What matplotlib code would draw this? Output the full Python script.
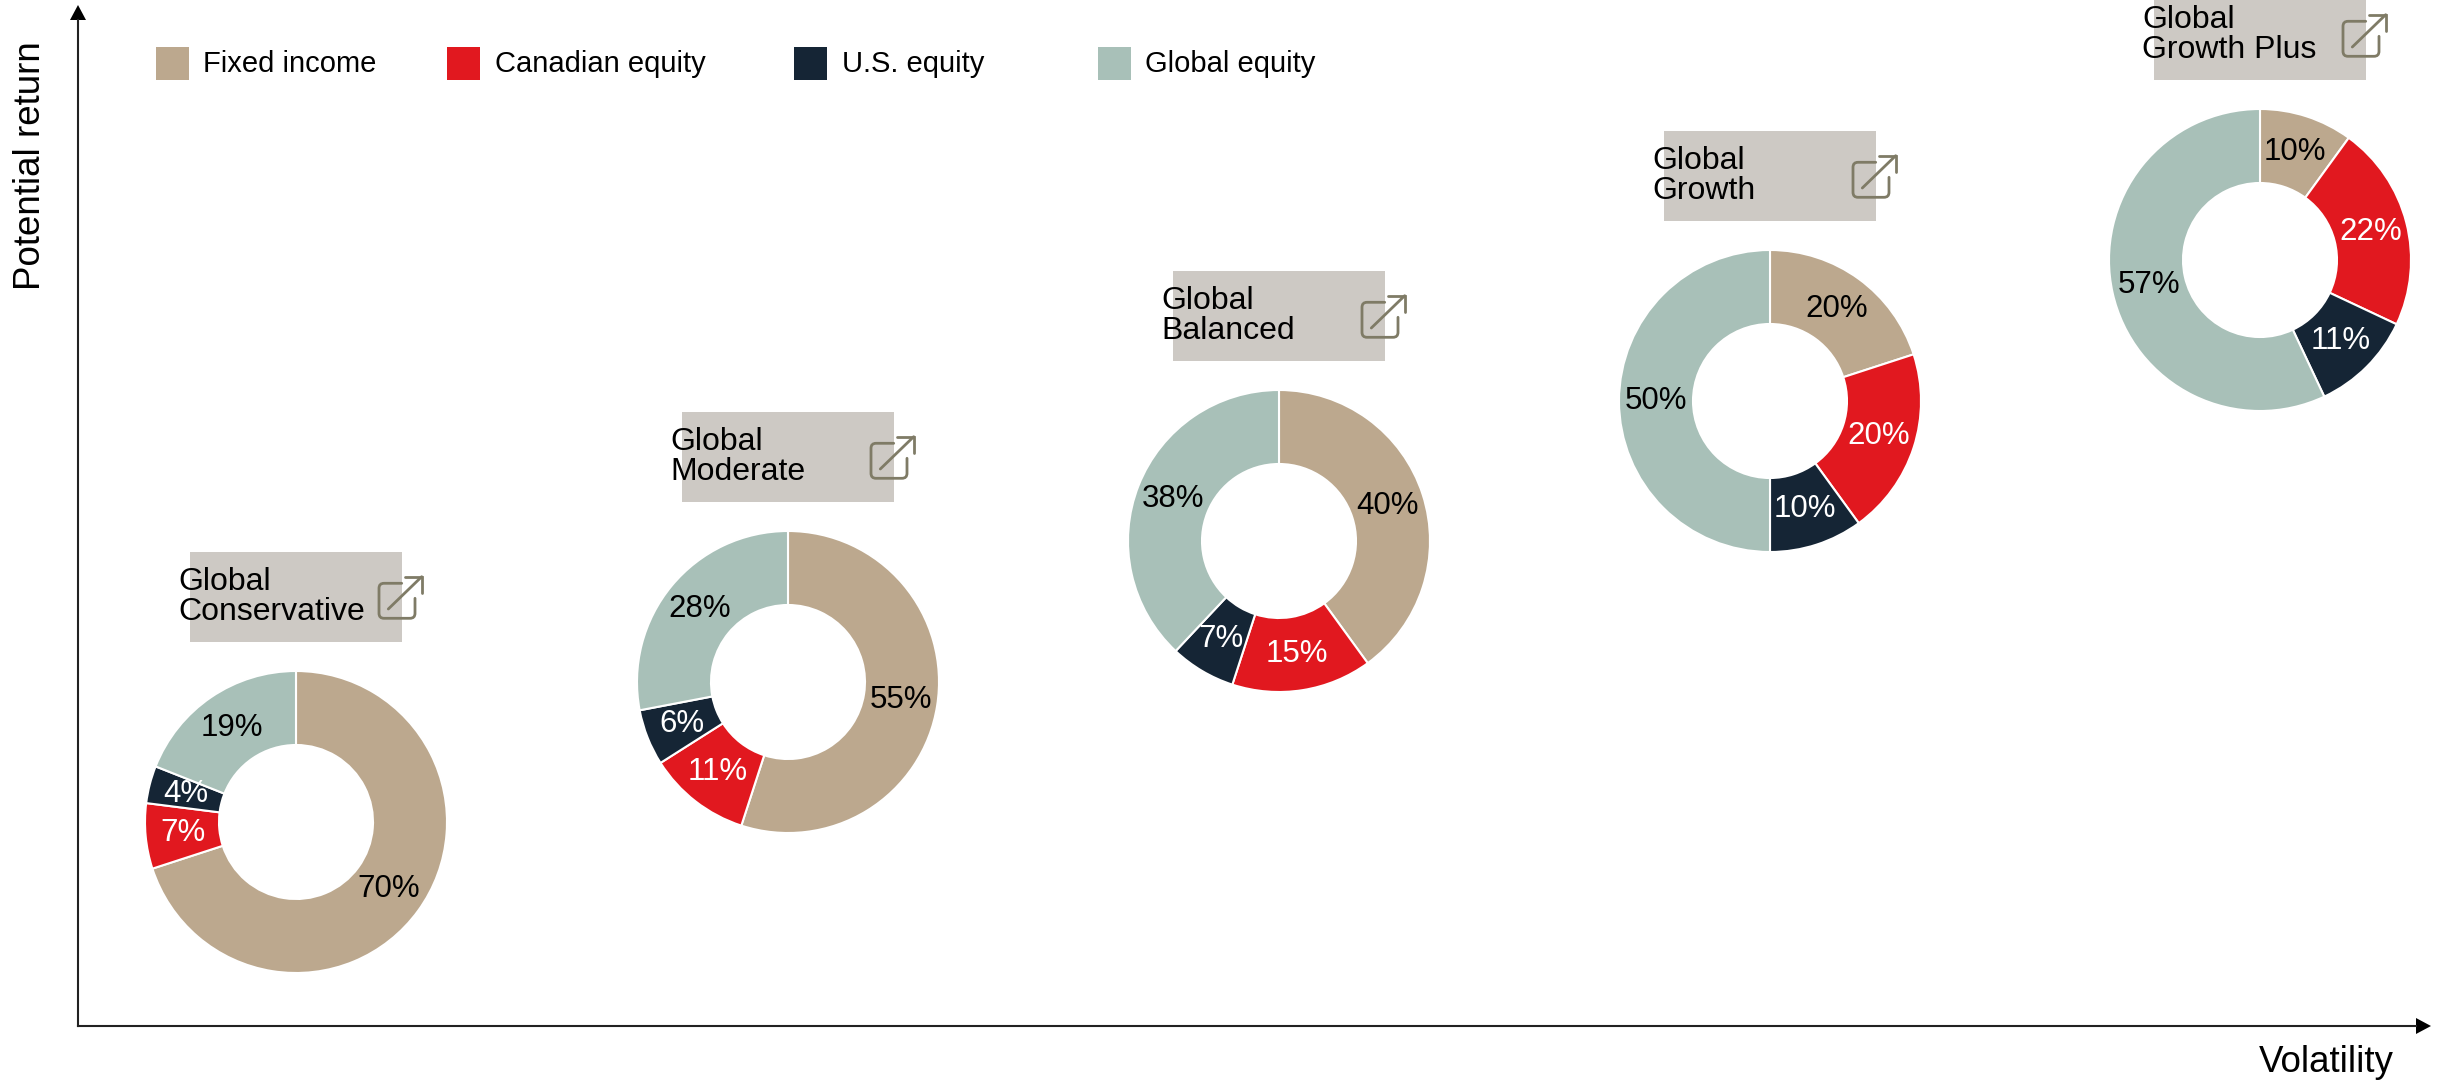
import matplotlib
matplotlib.use("Agg")
import matplotlib.pyplot as plt
from matplotlib.patches import FancyBboxPatch, Rectangle, Polygon
from matplotlib.path import Path
from matplotlib.patches import PathPatch

plt.rcParams['font.family'] = ['Liberation Sans', 'DejaVu Sans']

# Datos de cada cartera
portfolios = ["Global\nConservative", "Global\nModerate", "Global\nBalanced", "Global\nGrowth", "Global\nGrowth Plus"]
fixed_income = [70, 55, 40, 20, 10]
canadian_equity = [7, 11, 15, 20, 22]
us_equity = [4, 6, 7, 10, 11]
global_equity = [19, 28, 38, 50, 57]

series_names = ["Fixed income", "Canadian equity", "U.S. equity", "Global equity"]
series_colors = ["#bca88e", "#e1181f", "#152535", "#a8c0b8"]
label_colors = ["black", "white", "white", "black"]

# Posiciones en pixeles de la imagen
center_x = [296, 788, 1279, 1770, 2260]
center_y = [822, 682, 541, 401, 260]
radius = 151
ring = 74

fig = plt.figure(figsize=(24.46, 10.82), dpi=100)
ax = fig.add_axes([0, 0, 1, 1])

icon_color = "#7f7b66"
pill_color = "#cdc9c4"


def draw_icon(cx, cy):
    box = Path(
        [(105.7, -13.7), (88, -13.7), (83, -13.7), (83, -8.7), (83, 16.3), (83, 21.3), (88, 21.3),
         (114, 21.3), (119, 21.3), (119, 16.3), (119, 1.3)],
        [Path.MOVETO, Path.LINETO, Path.CURVE3, Path.CURVE3, Path.LINETO, Path.CURVE3, Path.CURVE3,
         Path.LINETO, Path.CURVE3, Path.CURVE3, Path.LINETO],
    )
    box = box.transformed(matplotlib.transforms.Affine2D().translate(cx, cy))
    ax.add_patch(PathPatch(box, fill=False, edgecolor=icon_color, lw=2, capstyle='round'))
    ax.plot([cx + 92.3, cx + 125.7], [cy + 12, cy - 20.3], color=icon_color, lw=2, solid_capstyle='round')
    ax.plot([cx + 109, cx + 125.7, cx + 125.7], [cy - 20.3, cy - 20.3, cy - 3.7], color=icon_color, lw=2,
            solid_capstyle='round', solid_joinstyle='miter')


for i, name in enumerate(portfolios):
    vals = [fixed_income[i], canadian_equity[i], us_equity[i], global_equity[i]]
    cx = center_x[i]
    cy = center_y[i]
    # el eje y esta invertido, por eso counterclock=True gira en sentido horario
    wedges, texts, autotexts = ax.pie(
        vals, colors=series_colors, center=(cx, cy), radius=radius, startangle=-90, counterclock=True,
        autopct='%.0f%%', pctdistance=0.755, wedgeprops={'width': ring, 'edgecolor': 'white', 'linewidth': 1.5},
        textprops={'fontsize': 22.5},
    )
    for t, c in zip(autotexts, label_colors):
        t.set_color(c)

    # Etiqueta redondeada
    pill_y = cy - 225
    ax.add_patch(FancyBboxPatch((cx - 151 + 45, pill_y - 45 + 0), 302 - 90, 90,
                                boxstyle="round,pad=0,rounding_size=45", facecolor=pill_color, edgecolor='none',
                                mutation_aspect=1))
    ax.add_patch(Rectangle((cx - 106, pill_y - 45), 212, 90, facecolor=pill_color, edgecolor='none'))
    ax.text(cx - 118, pill_y, name, fontsize=23, va='center', ha='left', linespacing=1.0, color='black')
    draw_icon(cx, pill_y)

# Leyenda
swatch_x = [156, 447, 794, 1098]
text_x = [203, 495, 842, 1145]
for name, color, sx, tx in zip(series_names, series_colors, swatch_x, text_x):
    ax.add_patch(Rectangle((sx, 47), 33, 33, facecolor=color, edgecolor='none'))
    ax.text(tx, 64, name, fontsize=21, va='center', ha='left', color='black')

# Ejes con flecha
ax.plot([78, 78], [1026, 20], color='#222222', lw=1.5)
ax.plot([78, 2416], [1026, 1026], color='#222222', lw=1.5)
ax.add_patch(Polygon([(70, 20), (86, 20), (78, 5)], closed=True, facecolor='black', edgecolor='none'))
ax.add_patch(Polygon([(2416, 1018), (2416, 1034), (2431, 1026)], closed=True, facecolor='black', edgecolor='none'))

ax.text(31, 166, "Potential return", fontsize=26.5, rotation=90, va='center', ha='center', color='black')
ax.text(2394, 1063, "Volatility", fontsize=26.5, va='center', ha='right', color='black')

ax.set_xlim(0, 2446)
ax.set_ylim(1082, 0)
ax.set_aspect('auto')
ax.axis('off')

fig.savefig("out.png", dpi=100)
